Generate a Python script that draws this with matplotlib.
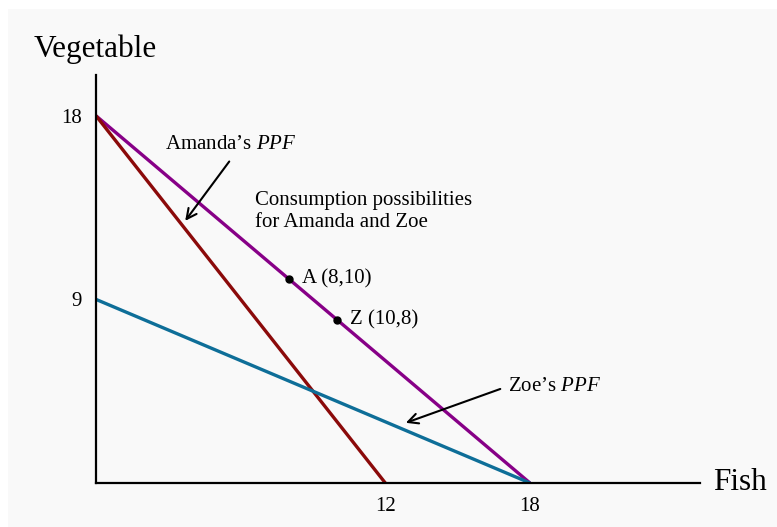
import matplotlib.pyplot as plt
from matplotlib.patches import Rectangle

# data
amanda_x = [0, 12]
amanda_y = [18, 0]
zoe_x = [0, 18]
zoe_y = [9, 0]
cons_x = [0, 18]
cons_y = [18, 0]
pts_x = [8, 10]
pts_y = [10, 8]
pt_labels = ["A (8,10)", "Z (10,8)"]
xticks = [12, 18]
yticks = [9, 18]

W, H = 777, 527
plt.rcParams['font.family'] = ['Liberation Serif', 'DejaVu Serif']
plt.rcParams['mathtext.fontset'] = 'custom'
plt.rcParams['mathtext.rm'] = 'Liberation Serif'
plt.rcParams['mathtext.it'] = 'Liberation Serif:italic'
fig = plt.figure(figsize=(W / 100, H / 100), dpi=100)
fig.patch.set_facecolor('white')
fig.patches.append(Rectangle((8 / W, 0), 1, 1 - 9 / H, transform=fig.transFigure,
                             facecolor='#f9f9f9', edgecolor='none', zorder=-10))

ax = fig.add_axes([96 / W, 44 / H, 604 / W, 408 / H])
ax.set_facecolor('none')
ax.set_xlim(0, 604 / 24.11)
ax.set_ylim(0, 20)
for s in ['top', 'right']:
    ax.spines[s].set_visible(False)
for s in ['left', 'bottom']:
    ax.spines[s].set_linewidth(1.6)
ax.set_xticks(xticks)
ax.set_yticks(yticks)
ax.tick_params(length=0, labelsize=15, pad=10)

ax.plot(cons_x, cons_y, color='#870087', lw=2.4, solid_capstyle='butt')
ax.plot(amanda_x, amanda_y, color='#8b0a0a', lw=2.4, solid_capstyle='butt')
ax.plot(zoe_x, zoe_y, color='#0e6e98', lw=2.4, solid_capstyle='butt')
ax.plot(pts_x, pts_y, 'o', color='black', ms=5)
for x, y, t in zip(pts_x, pts_y, pt_labels):
    ax.text(x + 0.55, y, t, fontsize=15, va='center', ha='left')

ax.text(-2.6, 20.55, "Vegetable", fontsize=22.5, ha='left', va='bottom', clip_on=False)
ax.text(25.6, 0, "Fish", fontsize=22.5, ha='left', va='center', clip_on=False)

ax.annotate("Amanda’s $\\it{PPF}$", xy=(3.7, 12.85), xytext=(2.86, 16.58),
            fontsize=15, ha='left', va='center',
            arrowprops=dict(arrowstyle='->', color='black', lw=1.5,
                            shrinkA=4, shrinkB=0, mutation_scale=18,
                            relpos=(0.53, 0)))
ax.annotate("Zoe’s $\\it{PPF}$", xy=(12.85, 2.95), xytext=(17.1, 4.75),
            fontsize=15, ha='left', va='center',
            arrowprops=dict(arrowstyle='->', color='black', lw=1.5,
                            shrinkA=4, shrinkB=0, mutation_scale=18,
                            relpos=(0, 0.5)))
ax.text(6.6, 13.3, "Consumption possibilities\nfor Amanda and Zoe", fontsize=15,
        ha='left', va='center', linespacing=1.2)

fig.savefig("out.png", dpi=100)
